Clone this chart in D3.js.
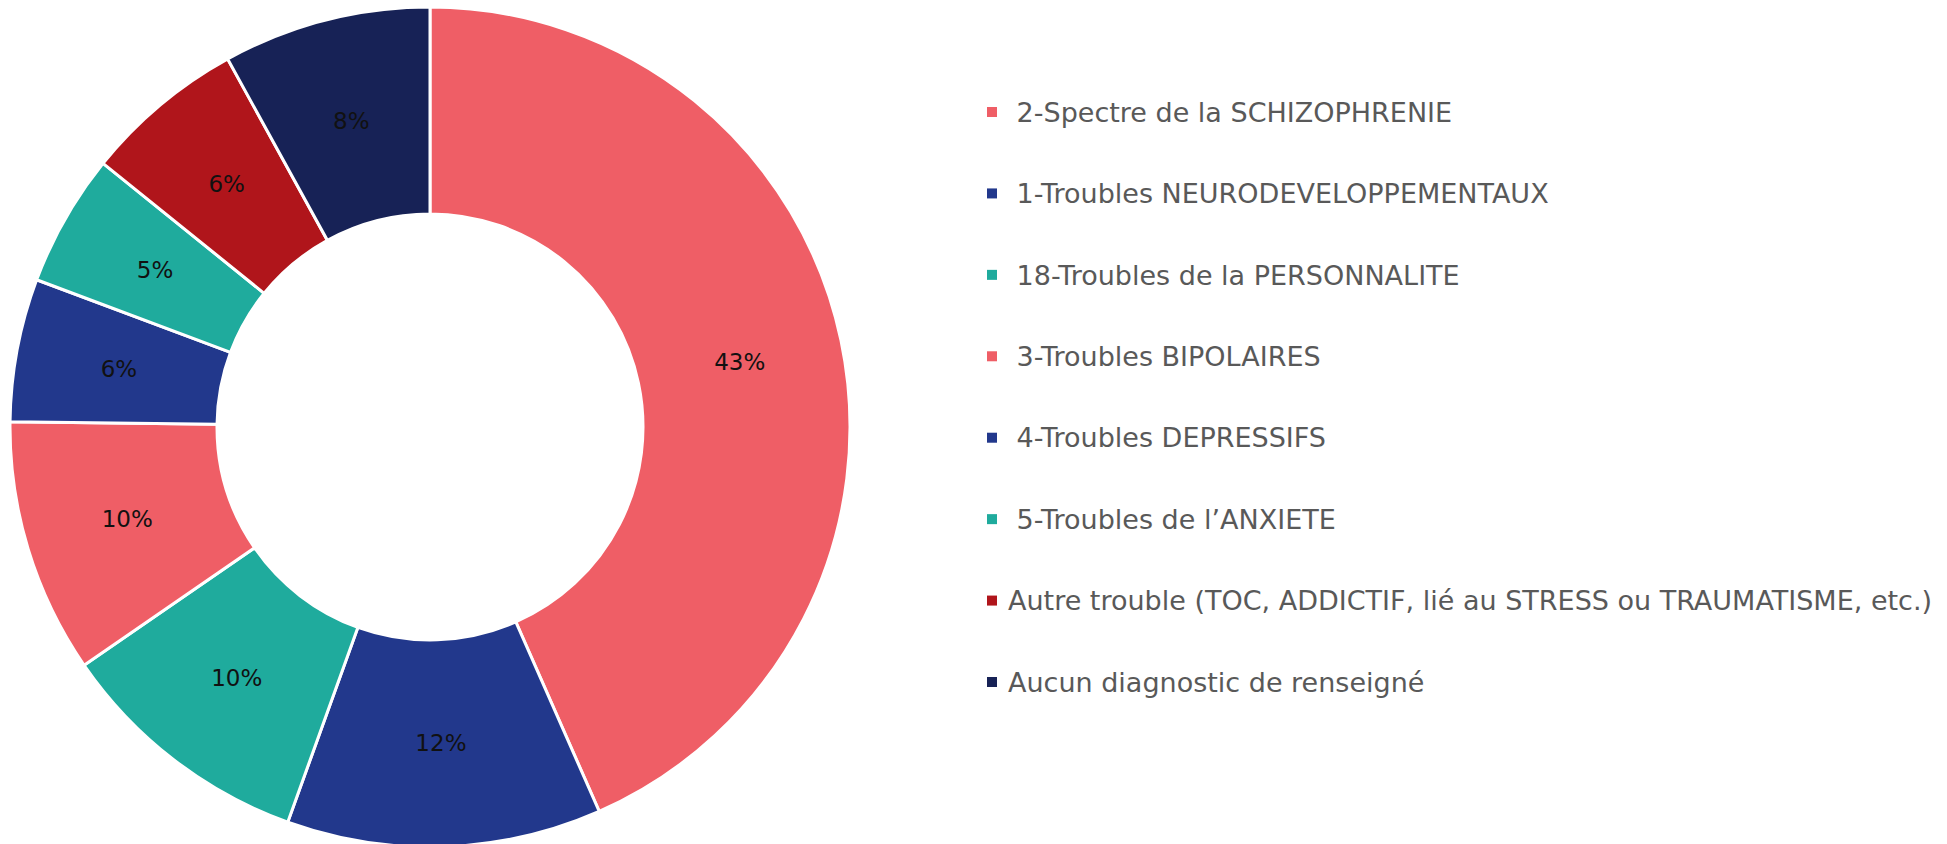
<!DOCTYPE html>
<html>
<head>
<meta charset="utf-8">
<script src="https://cdn.jsdelivr.net/npm/d3@7"></script>
<style>
  body { margin: 0; background: #fff; }
  svg text { font-family: "DejaVu Sans", sans-serif; }
</style>
</head>
<body>
<svg id="chart" width="1947" height="844"></svg>
<script>
// Data (share of patients, %)
const categories = [
    " 2-Spectre de la SCHIZOPHRENIE",
    " 1-Troubles NEURODEVELOPPEMENTAUX",
    " 18-Troubles de la PERSONNALITE",
    " 3-Troubles BIPOLAIRES",
    " 4-Troubles DEPRESSIFS",
    " 5-Troubles de l\u2019ANXIETE",
    "Autre trouble (TOC, ADDICTIF, lié au STRESS ou TRAUMATISME, etc.)",
    "Aucun diagnostic de renseigné"
];
const values = [43.4, 12.1, 9.9, 9.8, 5.5, 5.1, 6.2, 8.0];
const colors = ["#EF5E66", "#22388C", "#1FAB9D", "#EF5E66", "#22388C", "#1FAB9D", "#B0151B", "#172256"];

const svg = d3.select("#chart");
const cx = 430, cy = 427, outerR = 420, innerR = 213;

const data = categories.map((c, i) => ({name: c, value: values[i], color: colors[i]}));

const pie = d3.pie().sort(null).value(d => d.value);
const arc = d3.arc().innerRadius(innerR).outerRadius(outerR);
const arcs = pie(data);

const g = svg.append("g").attr("transform", `translate(${cx},${cy})`);

g.selectAll("path")
    .data(arcs)
    .join("path")
    .attr("d", arc)
    .attr("fill", d => d.data.color)
    .attr("stroke", "#fff")
    .attr("stroke-width", 3);

// percentage labels
g.selectAll("text")
    .data(arcs)
    .join("text")
    .attr("transform", d => `translate(${arc.centroid(d)})`)
    .attr("text-anchor", "middle")
    .attr("dy", "0.35em")
    .attr("font-size", 23)
    .attr("fill", "#111")
    .text(d => Math.round(d.data.value) + "%");

// Legend
const legend = svg.append("g").attr("transform", "translate(987,0)");
const rowY = d3.scaleLinear().domain([0, 7]).range([112, 682]);

const items = legend.selectAll("g")
    .data(data)
    .join("g")
    .attr("transform", (d, i) => `translate(0,${rowY(i)})`);

items.append("rect")
    .attr("x", 0)
    .attr("y", -5)
    .attr("width", 10)
    .attr("height", 10)
    .attr("fill", d => d.color);

items.append("text")
    .attr("x", 21)
    .attr("dy", "0.36em")
    .attr("font-size", 27)
    .attr("fill", "#595959")
    .style("white-space", "pre")
    .text(d => d.name);
</script>
</body>
</html>
